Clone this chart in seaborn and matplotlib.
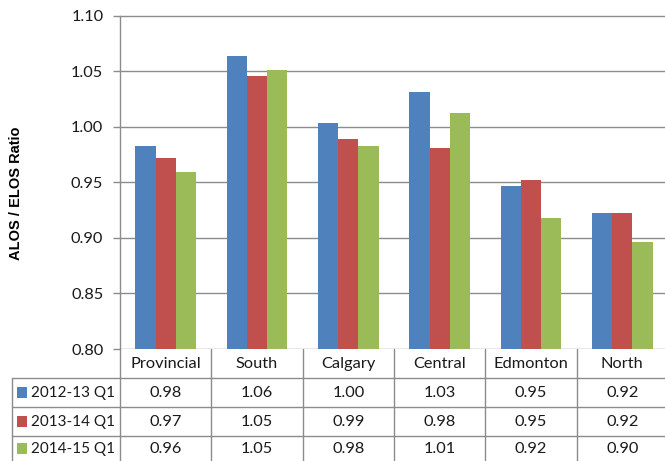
import matplotlib
matplotlib.use("Agg")
import matplotlib.pyplot as plt
from matplotlib.lines import Line2D
from matplotlib.patches import Rectangle
import seaborn as sns
import pandas as pd

# Zones and quarters
zones = ["Provincial", "South", "Calgary", "Central", "Edmonton", "North"]
series_names = ["2012-13 Q1", "2013-14 Q1", "2014-15 Q1"]

# ALOS / ELOS ratio per zone for each quarter
q1_2012_13 = [0.983, 1.064, 1.003, 1.031, 0.947, 0.922]
q1_2013_14 = [0.972, 1.046, 0.989, 0.981, 0.952, 0.922]
q1_2014_15 = [0.959, 1.051, 0.983, 1.012, 0.918, 0.896]

colors = ["#4F81BD", "#C0504D", "#9BBB59"]
y_ticks = [0.80, 0.85, 0.90, 0.95, 1.00, 1.05, 1.10]

values = [q1_2012_13, q1_2013_14, q1_2014_15]
df = pd.DataFrame({
    "zone": [z for _ in series_names for z in zones],
    "quarter": [s for s in series_names for _ in zones],
    "ratio": [v for vals in values for v in vals],
})

sns.set_theme(style="white")
plt.rcParams["font.family"] = ["Lato", "DejaVu Sans"]
text_color = "#1a1a1a"
grid_color = "#8c8c8c"
fs = 11.8

W, H = 665, 461
fig = plt.figure(figsize=(W / 100, H / 100), dpi=100)
left_px, right_px, top_px, bottom_px = 120, 668, 15.5, 349
ax = fig.add_axes([left_px / W, 1 - bottom_px / H,
                   (right_px - left_px) / W, (bottom_px - top_px) / H])

sns.barplot(data=df, x="zone", y="ratio", hue="quarter", order=zones,
            hue_order=series_names, palette=colors, width=0.665, gap=0,
            linewidth=0, saturation=1, ax=ax, legend=False)

ax.set_xlim(-0.5, len(zones) - 0.5)
ax.set_ylim(0.80, 1.10)
ax.set_yticks(y_ticks)
ax.set_yticklabels([f"{t:.2f}" for t in y_ticks], fontsize=fs, color=text_color)
ax.yaxis.grid(True, color=grid_color, linewidth=1)
ax.set_axisbelow(True)
ax.set_xticks([])
ax.set_xlabel("")
ax.set_ylabel("ALOS / ELOS Ratio", fontsize=10.5, fontweight="bold",
              color="black", family=["Liberation Sans", "DejaVu Sans"])
ax_w = right_px - left_px
ax_h = bottom_px - top_px
ax.yaxis.set_label_coords((23 - left_px) / ax_w, 1 - (193 - top_px) / ax_h)
ax.tick_params(axis="y", left=True, length=5, width=1, color=grid_color, pad=7)
for side in ["top", "right", "bottom"]:
    ax.spines[side].set_visible(False)
ax.spines["left"].set_color(grid_color)
ax.spines["left"].set_linewidth(1)

# Data table beneath the axis: x in data units, y in axes units
tr = ax.get_xaxis_transform()
def ay(px):
    return -(px - bottom_px) / ax_h

row_edges = [349, 378, 407, 436, 461]
unit_px = ax_w / len(zones)
table_left = -0.5 - (left_px - 12) / unit_px
line_kw = dict(color=grid_color, linewidth=1, transform=tr, clip_on=False)

# horizontal rules
for y in row_edges[1:4]:
    ax.add_line(Line2D([table_left, len(zones) - 0.5], [ay(y), ay(y)], **line_kw))
# vertical rules
for i in range(len(zones) + 1):
    x = i - 0.5
    ax.add_line(Line2D([x, x], [0, ay(row_edges[-1])], **line_kw))
ax.add_line(Line2D([table_left, table_left], [ay(row_edges[1]), ay(row_edges[-1])], **line_kw))

# header row: zone names
hy = ay((row_edges[0] + row_edges[1]) / 2)
for i, z in enumerate(zones):
    ax.text(i, hy, z, transform=tr, ha="center", va="center",
            fontsize=fs, color=text_color, clip_on=False)

# value rows with legend keys
for r, (name, vals, c) in enumerate(zip(series_names, values, colors)):
    cy = ay((row_edges[r + 1] + row_edges[r + 2]) / 2)
    key_x = table_left + 5 / unit_px
    key_w = 10 / unit_px
    key_h = 11 / ax_h
    ax.add_patch(Rectangle((key_x, cy - key_h / 2), key_w, key_h,
                           facecolor=c, edgecolor="none",
                           transform=tr, clip_on=False))
    ax.text(key_x + key_w + 4 / unit_px, cy, name, transform=tr,
            ha="left", va="center", fontsize=11, color=text_color, clip_on=False)
    for i, v in enumerate(vals):
        ax.text(i, cy, f"{v:.2f}", transform=tr, ha="center", va="center",
                fontsize=fs, color=text_color, clip_on=False)

fig.savefig("out.png", dpi=100, facecolor="white")
